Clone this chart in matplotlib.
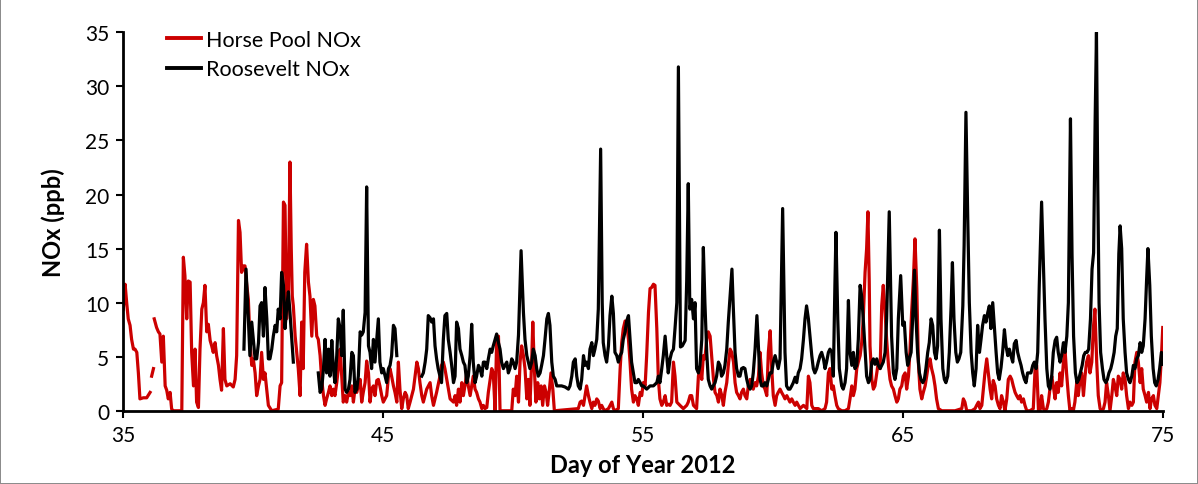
import numpy as np
import matplotlib
matplotlib.use("Agg")
import matplotlib.pyplot as plt

nan = np.nan

# Horse Pool NOx (ppb) vs day of year
hp_day = [35.01, 35.08, 35.14, 35.20, 35.27, 35.33, 35.40, 35.46, 35.53, 35.59, 35.65, 35.78, 35.91, 36.04, 36.07,
          36.10, 36.17, 36.185, 36.20, 36.29, 36.36, 36.42, 36.49, 36.55, 36.62, 36.68, 36.74, 36.81, 36.87, 36.94,
          37.26, 37.32, 37.38, 37.45, 37.51, 37.58, 37.64, 37.71, 37.77, 37.83, 37.90, 37.96, 38.03, 38.09, 38.15,
          38.22, 38.28, 38.35, 38.41, 38.47, 38.54, 38.60, 38.67, 38.73, 38.79, 38.86, 38.92, 38.99, 39.12, 39.24,
          39.31, 39.37, 39.44, 39.50, 39.56, 39.63, 39.69, 39.76, 39.82, 39.88, 39.95, 40.01, 40.08, 40.14, 40.21,
          40.27, 40.33, 40.40, 40.46, 40.59, 40.72, 40.97, 41.04, 41.10, 41.17, 41.23, 41.29, 41.36, 41.42, 41.47,
          41.51, 41.55, 41.62, 41.68, 41.74, 41.81, 41.87, 41.93, 41.99, 42.06, 42.13, 42.19, 42.26, 42.32, 42.38,
          42.45, 42.51, 42.58, 42.64, 42.71, 42.77, 42.83, 42.90, 42.96, 43.03, 43.09, 43.15, 43.22, 43.28, 43.35,
          43.41, 43.47, 43.54, 43.60, 43.67, 43.73, 43.80, 43.86, 43.92, 43.99, 44.05, 44.12, 44.18, 44.24, 44.31,
          44.37, 44.44, 44.50, 44.56, 44.63, 44.69, 44.76, 44.82, 44.88, 44.95, 45.01, 45.14, 45.21, 45.27, 45.33,
          45.40, 45.46, 45.53, 45.59, 45.65, 45.72, 45.78, 45.85, 45.91, 45.97, 46.04, 46.17, 46.30, 46.36, 46.42,
          46.49, 46.55, 46.68, 46.81, 46.87, 46.94, 47.06, 47.19, 47.25, 47.32, 47.38, 47.45, 47.51, 47.58, 47.71,
          47.77, 47.83, 47.90, 47.96, 48.03, 48.09, 48.15, 48.22, 48.28, 48.35, 48.41, 48.47, 48.54, 48.60, 48.67,
          48.73, 48.80, 48.86, 48.92, 48.99, 49.05, 49.12, 49.18, 49.24, 49.31, 49.37, 49.44, 49.50, 49.95, 50.01,
          50.08, 50.14, 50.21, 50.27, 50.33, 50.40, 50.46, 50.53, 50.59, 50.65, 50.72, 50.76, 50.82, 50.88, 50.95,
          51.01, 51.08, 51.14, 51.21, 51.27, 51.33, 51.40, 51.46, 51.53, 51.59, 52.51, 52.58, 52.64, 52.71, 52.77,
          52.83, 52.90, 52.96, 53.03, 53.09, 53.15, 53.22, 53.28, 53.35, 53.41, 53.47, 53.54, 53.67, 53.80, 53.86,
          53.92, 54.05, 54.12, 54.18, 54.24, 54.31, 54.37, 54.44, 54.50, 54.56, 54.63, 54.69, 54.76, 54.82, 54.89,
          54.95, 55.01, 55.08, 55.14, 55.21, 55.27, 55.33, 55.40, 55.46, 55.53, 55.59, 55.65, 55.72, 55.78, 55.85,
          55.91, 55.97, 56.04, 56.10, 56.17, 56.23, 56.30, 56.42, 56.55, 56.68, 56.74, 56.81, 56.87, 56.94, 57.06,
          57.13, 57.19, 57.26, 57.32, 57.38, 57.45, 57.51, 57.58, 57.64, 57.71, 57.77, 57.84, 57.90, 57.96, 58.03,
          58.09, 58.15, 58.22, 58.28, 58.35, 58.41, 58.48, 58.54, 58.60, 58.67, 58.73, 58.79, 58.86, 58.92, 58.99,
          59.05, 59.12, 59.18, 59.24, 59.31, 59.37, 59.44, 59.50, 59.56, 59.63, 59.69, 59.76, 59.82, 59.89, 59.95,
          60.01, 60.08, 60.14, 60.20, 60.27, 60.33, 60.40, 60.46, 60.53, 60.59, 60.65, 60.72, 60.78, 60.85, 60.91,
          61.04, 61.17, 61.30, 61.36, 61.42, 61.49, 61.55, 61.68, 61.74, 61.87, 62.00, 62.06, 62.13, 62.19, 62.26,
          62.32, 62.38, 62.45, 62.51, 62.64, 62.77, 62.90, 62.96, 63.03, 63.09, 63.15, 63.22, 63.28, 63.35, 63.41,
          63.47, 63.54, 63.60, 63.65, 63.70, 63.73, 63.80, 63.86, 63.92, 63.99, 64.05, 64.12, 64.18, 64.24, 64.31,
          64.37, 64.44, 64.50, 64.56, 64.63, 64.69, 64.76, 64.82, 64.88, 64.95, 65.01, 65.08, 65.14, 65.21, 65.27,
          65.33, 65.40, 65.46, 65.53, 65.59, 65.65, 65.72, 65.78, 65.85, 65.91, 65.97, 66.04, 66.10, 66.17, 66.23,
          66.29, 66.36, 66.49, 66.74, 67.00, 67.26, 67.32, 67.38, 67.45, 67.64, 67.77, 67.83, 67.90, 67.96, 68.03,
          68.09, 68.15, 68.22, 68.28, 68.35, 68.41, 68.47, 68.54, 68.60, 68.67, 68.73, 68.79, 68.86, 68.92, 68.99,
          69.05, 69.12, 69.18, 69.24, 69.31, 69.37, 69.44, 69.50, 69.56, 69.63, 69.69, 69.76, 69.88, 70.01, 70.08,
          70.14, 70.21, 70.27, 70.33, 70.40, 70.46, 70.53, 70.59, 70.65, 70.72, 70.78, 70.85, 70.91, 70.97, 71.04,
          71.10, 71.17, 71.23, 71.29, 71.36, 71.42, 71.49, 71.55, 71.61, 71.68, 71.74, 71.81, 71.87, 71.94, 72.00,
          72.06, 72.13, 72.19, 72.26, 72.32, 72.38, 72.45, 72.51, 72.58, 72.64, 72.71, 72.77, 72.83, 72.90, 72.96,
          73.03, 73.09, 73.15, 73.22, 73.28, 73.35, 73.41, 73.47, 73.54, 73.60, 73.67, 73.73, 73.80, 73.86, 73.92,
          73.99, 74.05, 74.12, 74.18, 74.24, 74.31, 74.37, 74.44, 74.50, 74.56, 74.63, 74.69, 74.76, 74.82, 74.88,
          74.94, 74.99]
hp_nox = [9.4, 11.7, 10.0, 8.5, 7.9, 6.6, 5.7, 5.7, 5.4, 3.5, 1.1, 1.2, 1.2, 1.7, nan,
          3.2, 3.9, nan, 8.5, 7.7, 7.3, 7.1, 4.5, 6.9, 2.3, 1.9, 1.1, 1.7, 0.15, 0.0,
          0.0, 14.2, 12.5, 8.5, 12.0, 11.9, 5.4, 2.3, 5.7, 0.8, 0.3, 5.7, 9.4, 10.0, 11.6,
          7.3, 8.0, 6.5, 6.0, 5.4, 6.3, 5.1, 4.2, 2.9, 1.9, 7.6, 2.9, 2.3, 2.5, 2.2,
          2.9, 5.1, 17.6, 16.5, 12.8, 13.4, 13.4, 11.6, 10.3, 6.6, 4.2, 4.8, 3.5, 1.4, 2.3,
          2.9, 5.4, 2.9, 3.5, 0.5, 0.0, 0.15, 2.3, 2.6, 19.3, 19.0, 8.5, 10.6, 23.0, 15.0,
          10.6, 9.7, 6.9, 5.4, 3.9, 1.4, 8.2, 3.9, 12.8, 15.4, 11.9, 10.6, 6.9, 10.3, 9.7,
          6.9, 6.6, 5.1, 2.9, 1.4, 0.5, 1.1, 1.7, 2.3, 1.4, 2.0, 1.4, 2.6, 3.9, 5.7,
          3.2, 0.8, 1.4, 0.8, 1.7, 1.4, 2.3, 0.8, 2.0, 1.7, 2.3, 2.9, 0.8, 1.7, 2.6,
          4.6, 3.5, 0.8, 2.0, 2.3, 1.4, 2.8, 2.9, 2.3, 1.4, 0.8, 1.4, 3.2, 3.9, 3.2,
          2.3, 1.7, 0.8, 4.5, 2.0, 0.2, 1.1, 1.7, 1.4, 0.2, 0.8, 2.0, 4.5, 3.9, 2.6,
          1.4, 0.8, 2.0, 2.6, 1.4, 0.5, 1.7, 3.2, 4.2, 4.5, 3.9, 2.9, 2.0, 1.1, 0.8,
          1.4, 0.5, 2.0, 0.8, 2.6, 1.4, 2.3, 3.5, 2.3, 1.4, 2.3, 3.2, 2.0, 1.7, 1.1,
          0.8, 0.2, 0.5, 0.2, 0.3, 1.7, 2.9, 3.9, 3.5, 0.0, 6.5, 6.9, 0.0, 0.0, 2.0,
          1.4, 3.2, 0.8, 4.5, 6.0, 5.1, 3.9, 1.1, 2.9, 0.5, 4.8, 8.2, 3.9, 0.8, 2.6,
          1.1, 2.3, 0.5, 2.3, 1.7, 0.5, 2.0, 3.5, 2.0, 0.0, 0.2, 0.8, 0.9, 0.5, 1.4,
          2.3, 1.4, 0.8, 0.2, 0.8, 0.5, 1.1, 0.9, 0.2, 0.5, 0.2, 0.0, 0.2, 0.8, 0.2,
          0.0, 0.2, 3.9, 6.3, 7.6, 8.3, 8.2, 6.6, 4.5, 2.0, 0.8, 1.4, 1.1, 0.5, 1.7,
          1.4, 2.6, 2.3, 5.1, 9.1, 11.3, 11.4, 11.7, 11.6, 7.6, 2.9, 1.1, 0.5, 0.8, 1.4,
          0.5, 0.6, 0.5, 0.8, 4.5, 3.2, 0.8, 0.5, 0.2, 0.5, 0.8, 1.4, 1.4, 0.5, 0.2,
          3.2, 3.9, 2.9, 5.1, 4.8, 6.6, 7.3, 6.9, 5.1, 2.9, 1.7, 1.4, 0.8, 2.0, 1.4,
          0.5, 1.7, 2.6, 4.2, 5.7, 5.4, 4.5, 2.6, 1.7, 1.4, 1.1, 1.7, 2.0, 1.4, 1.1,
          2.3, 2.9, 2.3, 2.0, 2.6, 2.3, 3.2, 5.4, 3.5, 2.3, 2.0, 1.4, 5.4, 7.4, 3.9,
          1.4, 0.5, 1.4, 1.7, 2.0, 1.7, 1.4, 1.1, 1.4, 1.1, 0.8, 1.1, 0.8, 0.5, 0.8,
          0.2, 0.5, 0.2, 3.2, 2.6, 0.5, 0.2, 0.2, 0.2, 0.0, 0.2, 0.8, 3.5, 3.9, 2.0,
          2.3, 1.4, 0.5, 0.2, 0.0, 0.0, 0.2, 1.1, 2.3, 1.4, 2.0, 3.9, 4.5, 5.1, 6.3,
          8.5, 12.8, 15.0, 18.4, 12.0, 6.0, 2.9, 2.0, 2.3, 3.5, 4.5, 3.9, 9.7, 11.6, 9.1,
          6.6, 4.2, 2.9, 2.3, 2.0, 1.4, 0.8, 1.1, 2.0, 2.3, 3.2, 3.5, 2.0, 3.2, 5.7,
          9.1, 12.2, 15.9, 11.3, 4.5, 2.0, 1.1, 1.7, 2.3, 3.2, 4.2, 4.8, 3.9, 3.2, 2.3,
          1.1, 0.2, 0.0, 0.0, 0.0, 0.2, 1.1, 0.8, 0.0, 0.0, 0.2, 0.5, 0.8, 0.2, 0.5,
          2.0, 3.5, 4.8, 3.5, 2.0, 1.1, 2.8, 2.3, 1.1, 0.5, 0.2, 1.4, 0.8, 0.0, 1.1,
          2.9, 3.2, 2.9, 2.3, 1.7, 1.4, 1.1, 1.4, 0.8, 1.1, 0.5, 0.0, 0.0, 0.2, 3.9,
          4.2, 0.0, 0.0, 1.4, 0.2, 0.0, 0.2, 0.8, 2.0, 3.2, 2.3, 1.1, 2.6, 1.7, 3.5,
          2.3, 4.5, 5.7, 3.5, 1.4, 0.0, 0.2, 0.0, 0.8, 2.6, 1.4, 2.9, 3.5, 1.4, 3.2,
          4.5, 5.1, 3.5, 4.5, 7.6, 9.4, 4.5, 1.4, 0.2, 0.0, 0.2, 0.8, 2.6, 1.4, 0.0,
          1.4, 2.9, 2.3, 1.4, 3.2, 2.9, 2.0, 3.5, 2.9, 1.4, 0.2, 0.8, 0.5, 0.8, 4.5,
          5.4, 4.5, 2.6, 3.9, 2.0, 1.4, 0.8, 1.7, 0.2, 1.1, 1.4, 0.5, 0.2, 1.4, 2.6,
          5.1, 7.7]

# Roosevelt NOx (ppb) vs day of year
rv_day = [39.65, 39.73, 39.82, 39.88, 39.95, 40.01, 40.08, 40.14, 40.21, 40.27, 40.33, 40.40, 40.46, 40.53, 40.59,
          40.65, 40.72, 40.78, 40.85, 40.91, 40.97, 41.04, 41.10, 41.17, 41.23, 41.29, 41.36, 41.42, 41.49, 41.55,
          41.60, 42.51, 42.58, 42.64, 42.71, 42.77, 42.83, 42.90, 42.96, 43.03, 43.09, 43.15, 43.22, 43.28, 43.35,
          43.41, 43.47, 43.54, 43.60, 43.67, 43.73, 43.80, 43.86, 43.92, 43.99, 44.05, 44.12, 44.18, 44.24, 44.31,
          44.37, 44.44, 44.50, 44.56, 44.63, 44.69, 44.76, 44.82, 44.88, 44.95, 45.01, 45.08, 45.14, 45.21, 45.27,
          45.33, 45.40, 45.46, 45.53, 45.56, 46.49, 46.55, 46.62, 46.68, 46.74, 46.81, 46.87, 46.94, 47.00, 47.06,
          47.12, 47.19, 47.25, 47.32, 47.38, 47.45, 47.51, 47.58, 47.64, 47.71, 47.77, 47.83, 47.90, 47.96, 48.03,
          48.09, 48.15, 48.22, 48.28, 48.35, 48.41, 48.47, 48.54, 48.60, 48.67, 48.73, 48.80, 48.86, 48.92, 48.99,
          49.05, 49.12, 49.18, 49.24, 49.31, 49.37, 49.44, 49.50, 49.56, 49.63, 49.69, 49.76, 49.82, 49.88, 49.95,
          50.01, 50.08, 50.14, 50.21, 50.31, 50.40, 50.46, 50.53, 50.59, 50.65, 50.72, 50.78, 50.85, 50.91, 50.97,
          51.04, 51.10, 51.17, 51.23, 51.30, 51.36, 51.42, 51.49, 51.55, 51.62, 51.68, 51.74, 51.87, 52.00, 52.13,
          52.19, 52.26, 52.32, 52.39, 52.45, 52.51, 52.58, 52.64, 52.71, 52.77, 52.83, 52.90, 52.96, 53.03, 53.09,
          53.15, 53.22, 53.28, 53.37, 53.43, 53.47, 53.54, 53.60, 53.67, 53.73, 53.80, 53.86, 53.92, 53.99, 54.05,
          54.12, 54.18, 54.24, 54.31, 54.37, 54.44, 54.50, 54.56, 54.63, 54.69, 54.76, 54.82, 54.89, 54.95, 55.01,
          55.14, 55.27, 55.40, 55.53, 55.59, 55.65, 55.72, 55.78, 55.85, 55.91, 55.97, 56.04, 56.10, 56.17, 56.23,
          56.30, 56.36, 56.44, 56.51, 56.62, 56.68, 56.74, 56.80, 56.87, 56.94, 57.00, 57.06, 57.13, 57.19, 57.26,
          57.32, 57.38, 57.45, 57.51, 57.58, 57.64, 57.70, 57.77, 57.83, 57.90, 57.96, 58.02, 58.09, 58.15, 58.22,
          58.28, 58.35, 58.42, 58.47, 58.54, 58.60, 58.67, 58.73, 58.79, 58.86, 58.92, 58.99, 59.05, 59.12, 59.18,
          59.24, 59.31, 59.38, 59.45, 59.50, 59.56, 59.63, 59.69, 59.76, 59.82, 59.88, 59.95, 60.01, 60.08, 60.14,
          60.20, 60.27, 60.37, 60.46, 60.52, 60.59, 60.65, 60.72, 60.78, 60.85, 60.91, 60.97, 61.04, 61.10, 61.17,
          61.23, 61.29, 61.36, 61.42, 61.49, 61.55, 61.61, 61.68, 61.74, 61.81, 61.87, 61.94, 62.00, 62.06, 62.13,
          62.19, 62.26, 62.32, 62.38, 62.42, 62.49, 62.55, 62.64, 62.70, 62.77, 62.83, 62.90, 62.96, 63.03, 63.09,
          63.15, 63.22, 63.28, 63.35, 63.41, 63.47, 63.54, 63.60, 63.67, 63.73, 63.80, 63.86, 63.92, 63.99, 64.05,
          64.12, 64.18, 64.24, 64.31, 64.37, 64.47, 64.56, 64.63, 64.69, 64.76, 64.82, 64.91, 64.99, 65.05, 65.12,
          65.18, 65.24, 65.31, 65.37, 65.44, 65.50, 65.56, 65.63, 65.69, 65.76, 65.82, 65.88, 65.95, 66.01, 66.08,
          66.14, 66.21, 66.27, 66.33, 66.40, 66.46, 66.53, 66.59, 66.65, 66.72, 66.78, 66.85, 66.90, 66.96, 67.03,
          67.09, 67.15, 67.22, 67.30, 67.35, 67.42, 67.49, 67.55, 67.62, 67.68, 67.74, 67.81, 67.87, 67.94, 68.00,
          68.06, 68.13, 68.19, 68.26, 68.32, 68.38, 68.45, 68.51, 68.58, 68.64, 68.70, 68.77, 68.83, 68.90, 68.96,
          69.03, 69.09, 69.15, 69.22, 69.28, 69.35, 69.41, 69.47, 69.54, 69.60, 69.67, 69.73, 69.79, 69.86, 69.92,
          69.99, 70.05, 70.12, 70.18, 70.24, 70.33, 70.40, 70.46, 70.53, 70.59, 70.65, 70.72, 70.78, 70.85, 70.91,
          70.97, 71.04, 71.10, 71.17, 71.23, 71.30, 71.36, 71.44, 71.50, 71.56, 71.63, 71.69, 71.76, 71.82, 71.89,
          71.95, 72.01, 72.08, 72.14, 72.21, 72.27, 72.33, 72.39, 72.44, 72.49, 72.54, 72.60, 72.67, 72.73, 72.80,
          72.86, 72.92, 72.99, 73.05, 73.12, 73.18, 73.24, 73.30, 73.35, 73.41, 73.47, 73.54, 73.60, 73.67, 73.73,
          73.80, 73.86, 73.92, 73.99, 74.05, 74.12, 74.18, 74.24, 74.31, 74.37, 74.42, 74.49, 74.55, 74.62, 74.68,
          74.74, 74.81, 74.87, 74.94, 75.00]
rv_nox = [5.7, 13.1, 8.5, 5.1, 8.2, 6.6, 4.8, 4.8, 6.3, 9.7, 10.0, 6.9, 11.4, 8.5, 4.8,
          4.8, 5.7, 6.9, 7.9, 7.3, 9.4, 8.5, 12.8, 11.6, 7.6, 9.4, 11.0, 9.1, 6.6, 4.5,
          nan, 3.5, 1.7, 2.0, 3.9, 6.6, 3.5, 5.7, 3.2, 6.5, 3.9, 2.6, 5.1, 8.5, 7.6,
          5.1, 9.3, 2.0, 1.7, 2.0, 2.9, 5.4, 5.1, 1.7, 2.0, 3.2, 7.3, 7.0, 7.3, 9.1,
          20.7, 6.0, 5.4, 3.9, 6.6, 4.5, 6.6, 8.5, 4.5, 3.5, 3.9, 3.2, 2.6, 3.9, 4.2,
          5.1, 7.9, 7.6, 5.1, nan, 3.2, 3.5, 4.5, 5.7, 8.8, 8.6, 8.2, 8.5, 6.0, 4.8,
          3.9, 3.2, 2.6, 6.6, 8.8, 9.0, 6.6, 5.4, 4.2, 2.6, 3.2, 8.2, 7.6, 5.7, 5.1,
          4.5, 4.2, 2.6, 3.2, 5.1, 8.0, 4.5, 2.6, 3.2, 4.2, 3.9, 3.2, 4.5, 4.5, 3.9,
          4.8, 5.7, 5.4, 6.0, 6.6, 7.1, 6.3, 5.7, 4.5, 3.9, 4.2, 4.5, 3.5, 3.9, 4.8,
          4.5, 3.9, 4.5, 7.0, 14.8, 9.1, 6.6, 5.1, 4.5, 3.9, 4.5, 5.7, 5.1, 3.9, 3.2,
          3.5, 4.2, 5.1, 6.6, 8.5, 9.0, 7.9, 4.5, 3.2, 2.9, 2.3, 2.3, 2.3, 2.2, 2.0,
          2.3, 3.2, 4.5, 4.8, 3.2, 2.3, 2.0, 2.9, 5.1, 4.2, 4.5, 3.9, 5.7, 6.3, 5.1,
          5.7, 6.6, 9.4, 24.2, 10.0, 6.3, 5.1, 4.5, 6.0, 8.8, 10.6, 9.0, 5.4, 5.1, 4.5,
          5.1, 5.4, 6.6, 7.3, 8.3, 8.8, 6.6, 4.5, 3.5, 2.6, 2.6, 2.9, 2.6, 2.3, 2.3,
          2.0, 2.3, 2.3, 2.6, 3.2, 2.6, 3.9, 5.1, 6.9, 5.1, 3.5, 4.8, 5.4, 5.7, 7.6,
          10.0, 31.8, 5.9, 6.0, 6.5, 12.0, 21.0, 9.4, 10.3, 8.5, 10.0, 3.9, 3.5, 4.2, 6.6,
          15.1, 10.0, 5.4, 2.9, 2.3, 2.0, 2.3, 2.6, 3.2, 4.5, 4.2, 3.2, 3.5, 4.2, 5.7,
          8.2, 10.6, 13.1, 9.7, 5.4, 3.9, 3.2, 3.2, 3.9, 4.0, 3.9, 2.9, 2.3, 2.0, 2.3,
          3.5, 5.7, 8.8, 5.4, 2.9, 2.3, 2.3, 2.6, 2.3, 2.9, 3.5, 3.5, 4.5, 5.1, 4.5,
          3.9, 4.8, 18.7, 5.4, 2.3, 2.0, 2.0, 2.3, 2.6, 3.1, 2.6, 3.5, 3.9, 4.8, 6.6,
          8.5, 9.7, 8.5, 6.9, 5.1, 3.9, 3.5, 3.9, 4.5, 5.1, 5.4, 4.8, 3.9, 4.5, 5.4,
          5.7, 5.4, 3.2, 11.6, 16.5, 8.5, 3.9, 2.3, 2.0, 2.6, 3.9, 10.2, 5.4, 4.2, 5.4,
          3.9, 4.2, 6.6, 11.6, 10.6, 8.5, 5.7, 3.2, 2.6, 2.9, 4.5, 4.8, 4.3, 4.8, 4.2,
          3.9, 4.2, 4.5, 5.4, 8.5, 18.4, 6.9, 3.5, 2.9, 3.9, 8.5, 12.5, 7.9, 8.2, 5.4,
          4.2, 4.8, 5.4, 8.5, 13.0, 8.5, 5.4, 3.5, 2.9, 2.6, 2.9, 3.9, 5.4, 6.3, 8.5,
          7.9, 5.4, 4.8, 6.0, 16.7, 8.5, 3.9, 2.9, 2.6, 3.2, 5.4, 9.7, 13.7, 8.5, 5.4,
          4.5, 4.8, 5.4, 9.7, 15.3, 27.6, 17.7, 10.0, 5.4, 3.5, 2.3, 3.9, 7.9, 5.4, 6.6,
          7.9, 8.8, 8.2, 9.1, 9.7, 7.6, 10.0, 7.9, 5.4, 3.5, 2.9, 4.0, 5.4, 7.5, 6.0,
          5.1, 5.7, 5.1, 4.5, 6.2, 6.5, 5.4, 4.8, 4.2, 3.5, 2.9, 2.6, 3.5, 3.5, 3.5,
          4.2, 4.5, 3.9, 5.4, 11.6, 19.3, 13.3, 8.5, 3.9, 2.3, 2.0, 3.2, 5.4, 6.5, 6.8,
          5.4, 4.5, 5.1, 6.3, 5.4, 6.9, 10.0, 27.0, 14.5, 6.9, 3.5, 2.6, 2.9, 3.5, 4.2,
          5.1, 5.4, 5.4, 5.7, 8.5, 13.1, 14.6, 27.0, 35.0, 20.8, 10.0, 5.4, 3.9, 2.9, 2.6,
          2.9, 3.5, 3.9, 4.5, 5.4, 6.9, 7.6, 14.5, 17.1, 15.0, 8.5, 5.4, 3.5, 2.9, 2.6,
          3.2, 4.2, 3.9, 4.8, 5.1, 6.3, 5.4, 6.0, 8.5, 12.2, 15.0, 11.6, 6.9, 3.9, 2.6,
          2.3, 2.9, 3.9, 5.4, 4.3]

x_ticks = [35, 45, 55, 65, 75]
y_ticks = [0, 5, 10, 15, 20, 25, 30, 35]

FONT = ["Lato", "DejaVu Sans"]
plt.rcParams["font.family"] = FONT

fig = plt.figure(figsize=(11.98, 4.85), dpi=100)
fig.patch.set_facecolor("white")
fig.patch.set_edgecolor("#8c8c8c")
fig.patch.set_linewidth(1.2)
ax = fig.add_axes([0.1027, 0.151, 0.8681, 0.7803])

ax.plot(hp_day, hp_nox, color="#CC0000", lw=2.3, label="Horse Pool NOx", solid_joinstyle="round", zorder=2)
ax.plot(rv_day, rv_nox, color="black", lw=2.3, label="Roosevelt NOx", solid_joinstyle="round", zorder=3)

ax.set_xlim(35, 75)
ax.set_ylim(0, 35)
ax.set_xticks(x_ticks)
ax.set_yticks(y_ticks)
ax.tick_params(axis="both", direction="out", length=5, width=1.5, labelsize=15, pad=5, color="black")
for s in ["top", "right"]:
    ax.spines[s].set_visible(False)
for s in ["left", "bottom"]:
    ax.spines[s].set_linewidth(2)
    ax.spines[s].set_color("black")

ax.set_xlabel("Day of Year 2012", fontsize=17, fontweight="bold", labelpad=6)
ax.set_ylabel("NOx (ppb)", fontsize=17, fontweight="bold", labelpad=14)

leg = ax.legend(loc="upper left", bbox_to_anchor=(0.034, 1.03), frameon=False, fontsize=15.5,
                handlelength=1.6, handletextpad=0.2, labelspacing=0.45, borderaxespad=0)
for h in leg.get_lines():
    h.set_linewidth(2.8)

fig.savefig("out.png", dpi=100, facecolor=fig.get_facecolor(), edgecolor=fig.get_edgecolor())
